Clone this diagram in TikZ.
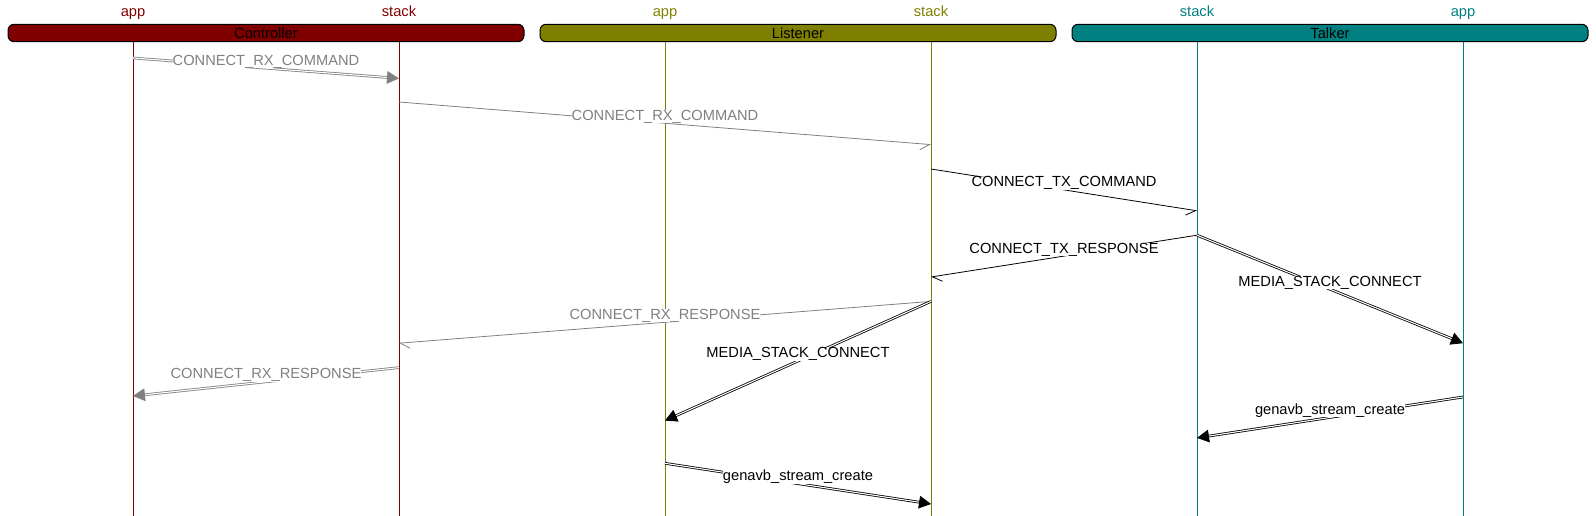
\documentclass[tikz,border=0pt]{standalone}
\usepackage{fontspec}
\setmainfont{Liberation Sans}
\usetikzlibrary{arrows.meta}
\definecolor{ctrlred}{RGB}{128,0,0}
\definecolor{lstnolive}{RGB}{128,128,0}
\definecolor{tlkrteal}{RGB}{0,128,128}
\definecolor{msggray}{RGB}{128,128,128}
\tikzset{
    entity/.style={draw=black, line width=0.75pt, rounded corners=4.5pt, minimum width=387pt, minimum height=13pt, inner sep=0pt, text=black},
    lifelabel/.style={inner sep=0pt, anchor=base},
    msglabel/.style={anchor=base, yshift=2.25pt, fill=white, inner sep=0pt},
    call/.style={line width=0.6pt, double distance=0.8pt, -{Triangle[length=9pt, width=9.5pt]}},
    sigfwd/.style={line width=0.6pt, -{Straight Barb[right, length=7pt, width=9pt]}},
    sigback/.style={line width=0.6pt, -{Straight Barb[left, length=7pt, width=9pt]}},
}

\begin{document}
\begin{tikzpicture}[x=0.75pt, y=-0.75pt, font=\fontsize{11}{13}\selectfont]
    \useasboundingbox (0,0) rectangle (1596,516);
    \node[entity, fill=ctrlred] (ctrl) at (266,33) {Controller};
    \node[entity, fill=lstnolive] (lstn) at (798,33) {Listener};
    \node[entity, fill=tlkrteal] (tlkr) at (1330,33) {Talker};
    \foreach \n/\x/\c/\t/\e in {capp/133/ctrlred/app/ctrl, cstack/399/ctrlred/stack/ctrl, lapp/665/lstnolive/app/lstn, lstack/931/lstnolive/stack/lstn, tstack/1197/tlkrteal/stack/tlkr, tapp/1463/tlkrteal/app/tlkr} {
        \node[lifelabel, text=\c] (\n) at (\x,16.5) {\t};
        \draw[\c, line width=0.75pt] (\n |- \e.south) -- (\n |- 0,516);
    }
    % messages, top to bottom
    \draw[call, msggray] (capp |- 0,58) -- node[msglabel, text=msggray] {CONNECT\_RX\_COMMAND} (cstack |- 0,78.4);
    \draw[sigfwd, msggray] (cstack |- 0,102) -- node[msglabel, text=msggray] {CONNECT\_RX\_COMMAND} (lstack |- 0,144.6);
    \draw[sigfwd] (lstack |- 0,169) -- node[msglabel] {CONNECT\_TX\_COMMAND} (tstack |- 0,210.8);
    \draw[sigback] (tstack |- 0,235.2) -- node[msglabel] {CONNECT\_TX\_RESPONSE} (lstack |- 0,277);
    \draw[call] (tstack |- 0,235.2) -- node[msglabel] {MEDIA\_STACK\_CONNECT} (tapp |- 0,343.2);
    \draw[sigback, msggray] (lstack |- 0,301.4) -- node[msglabel, text=msggray] {CONNECT\_RX\_RESPONSE} (cstack |- 0,343.2);
    \draw[call] (lstack |- 0,301.4) -- node[msglabel] {MEDIA\_STACK\_CONNECT} (lapp |- 0,420.6);
    \draw[call, msggray] (cstack |- 0,367.6) -- node[msglabel, text=msggray] {CONNECT\_RX\_RESPONSE} (capp |- 0,396);
    \draw[call] (tapp |- 0,397) -- node[msglabel] {genavb\_stream\_create} (tstack |- 0,437.9);
    \draw[call] (lapp |- 0,463.3) -- node[msglabel] {genavb\_stream\_create} (lstack |- 0,504);
\end{tikzpicture}
\end{document}
